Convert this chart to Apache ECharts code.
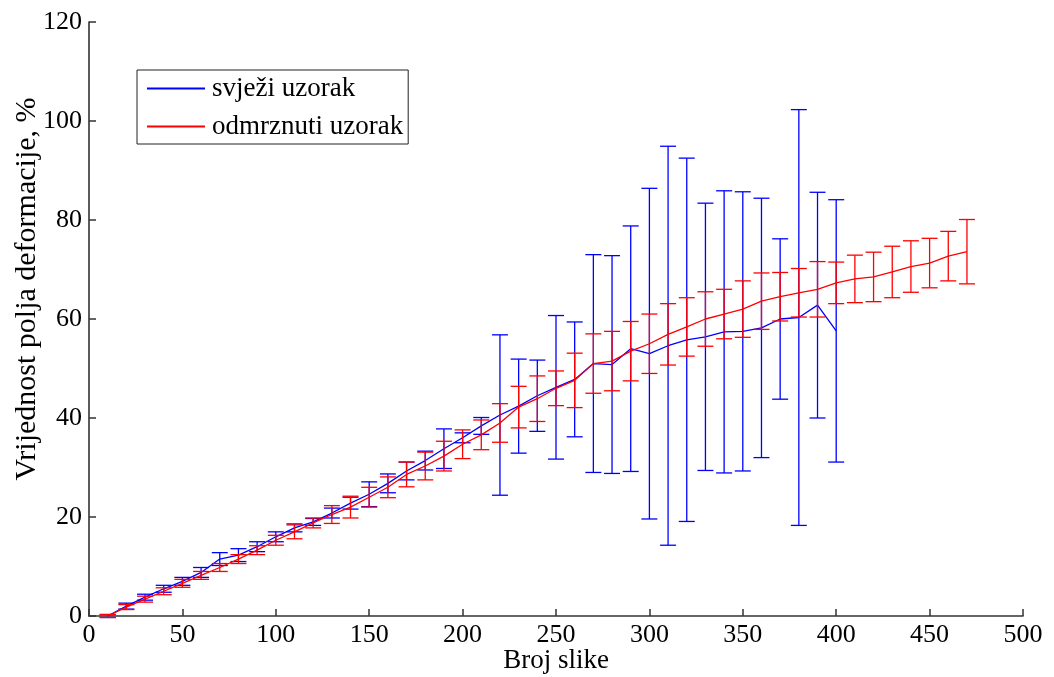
<!DOCTYPE html>
<html>
<head>
<meta charset="utf-8">
<script src="https://cdn.jsdelivr.net/npm/echarts@6/dist/echarts.min.js"></script>
<style>
  html, body { margin: 0; padding: 0; background: #fff; }
  #main { width: 1054px; height: 677px; }
</style>
</head>
<body>
<div id="main"></div>
<script>
// broj slike (x)
var frames = [10, 20, 30, 40, 50, 60, 70, 80, 90, 100, 110, 120, 130, 140, 150, 160, 170, 180, 190, 200,
              210, 220, 230, 240, 250, 260, 270, 280, 290, 300, 310, 320, 330, 340, 350, 360, 370, 380, 390, 400,
              410, 420, 430, 440, 450, 460, 470];

// svjezi uzorak - srednja vrijednost i greska
var blueMean = [0, 2, 3.8, 5.5, 7, 8.8, 11.5, 12.3, 14, 16, 17.8, 19, 20.8, 22.8, 24.6, 26.8, 29.3, 31.4, 33.8, 36,
                38.4, 40.6, 42.4, 44.5, 46.2, 47.8, 51, 50.8, 54, 53, 54.6, 55.8, 56.4, 57.4, 57.5, 58.2, 60, 60.3, 62.8, 57.6];
var blueErr = [0.3, 0.6, 0.6, 0.7, 0.8, 1, 1.3, 1.3, 1, 1, 0.8, 0.7, 1, 1.2, 2.5, 1.9, 1.8, 1.9, 4, 1,
               1.7, 16.2, 9.5, 7.2, 14.5, 11.6, 22, 22, 24.8, 33.4, 40.3, 36.7, 27, 28.5, 28.2, 26.2, 16.2, 42, 22.8, 26.5];

// odmrznuti uzorak
var redMean = [0, 1.8, 3.4, 5, 6.6, 8.2, 9.8, 11.5, 13.3, 15.3, 17, 18.8, 20.5, 22, 24, 26, 28.6, 30.3, 32.3, 34.7,
               36.6, 39, 42.2, 43.9, 46, 47.6, 51, 51.5, 53.5, 55, 56.9, 58.4, 60, 61, 62, 63.6, 64.5, 65.3, 66, 67.3,
               68.1, 68.5, 69.5, 70.6, 71.3, 72.7, 73.6];
var redErr = [0.3, 0.5, 0.6, 0.7, 0.8, 0.8, 0.8, 0.9, 0.9, 1, 1.4, 1, 1.8, 2.2, 2, 2.1, 2.5, 2.8, 3, 2.9,
              3, 3.9, 4.2, 4.6, 3.5, 5.5, 6, 6, 6, 6, 6.2, 5.9, 5.5, 5, 5.7, 5.7, 4.9, 4.9, 5.6, 4.2,
              4.8, 5, 5.2, 5.2, 5, 5, 6.5];

var xTicks = [0, 500, 50];
var yTicks = [0, 120, 20];

var serif = 'Liberation Serif';

function lineData(mean) {
    return mean.map(function(v, i) { return [frames[i], v]; });
}
function errData(mean, err) {
    return mean.map(function(v, i) { return [frames[i], v - err[i], v + err[i]]; });
}

function renderErr(color) {
    return function(params, api) {
        var lo = api.coord([api.value(0), api.value(1)]);
        var hi = api.coord([api.value(0), api.value(2)]);
        var w = 8;
        var st = { stroke: color, lineWidth: 1.3 };
        return {
            type: 'group',
            children: [
                { type: 'line', shape: { x1: hi[0], y1: hi[1], x2: lo[0], y2: lo[1] }, style: st },
                { type: 'line', shape: { x1: hi[0] - w, y1: hi[1], x2: hi[0] + w, y2: hi[1] }, style: st },
                { type: 'line', shape: { x1: lo[0] - w, y1: lo[1], x2: lo[0] + w, y2: lo[1] }, style: st }
            ]
        };
    };
}

var chart = echarts.init(document.getElementById('main'));

var option = {
    animation: false,
    backgroundColor: '#fff',
    grid: { left: 89, right: 31, top: 22, bottom: 61, outerBoundsMode: 'none' },
    legend: {
        data: ['svježi uzorak', 'odmrznuti uzorak'],
        orient: 'vertical',
        left: 137,
        top: 70,
        padding: [5, 5, 4, 10],
        itemGap: 11,
        itemWidth: 58,
        itemHeight: 2,
        icon: 'rect',
        borderColor: '#222',
        borderWidth: 1,
        backgroundColor: '#fff',
        textStyle: { fontFamily: serif, fontSize: 27, color: '#000', padding: [0, 0, 0, 2] }
    },
    // y-axis title is drawn as text so it can sit a little above the middle, as in the original
    graphic: [{
        type: 'text',
        x: 27,
        y: 289,
        rotation: Math.PI / 2,
        style: {
            text: 'Vrijednost polja deformacije, %',
            fontFamily: serif,
            fontSize: 30,
            fill: '#000',
            align: 'center',
            verticalAlign: 'middle'
        }
    }],
    xAxis: {
        type: 'value',
        min: xTicks[0],
        max: xTicks[1],
        interval: xTicks[2],
        name: 'Broj slike',
        nameLocation: 'middle',
        nameGap: 31,
        nameMoveOverlap: false,
        nameTextStyle: { fontFamily: serif, fontSize: 27, color: '#000' },
        axisLine: { lineStyle: { color: '#333', width: 1.6 } },
        axisTick: { inside: true, length: 7, lineStyle: { color: '#333', width: 1.5 } },
        axisLabel: { fontFamily: serif, fontSize: 26, color: '#000', margin: 6 },
        splitLine: { show: false }
    },
    yAxis: {
        type: 'value',
        min: yTicks[0],
        max: yTicks[1],
        interval: yTicks[2],
        axisLine: { show: true, lineStyle: { color: '#333', width: 1.6 } },
        axisTick: { show: true, inside: true, length: 7, lineStyle: { color: '#333', width: 1.5 } },
        axisLabel: { fontFamily: serif, fontSize: 26, color: '#000', margin: 7 },
        splitLine: { show: false }
    },
    series: [
        {
            name: 'blueErr',
            type: 'custom',
            renderItem: renderErr('#0000ff'),
            data: errData(blueMean, blueErr),
            encode: { x: 0, y: [1, 2] },
            z: 2
        },
        {
            name: 'svježi uzorak',
            type: 'line',
            data: lineData(blueMean),
            showSymbol: false,
            color: '#0000ff',
            lineStyle: { color: '#0000ff', width: 1.3 },
            z: 3
        },
        {
            name: 'redErr',
            type: 'custom',
            renderItem: renderErr('#ff0000'),
            data: errData(redMean, redErr),
            encode: { x: 0, y: [1, 2] },
            z: 4
        },
        {
            name: 'odmrznuti uzorak',
            type: 'line',
            data: lineData(redMean),
            showSymbol: false,
            color: '#ff0000',
            lineStyle: { color: '#ff0000', width: 1.3 },
            z: 5
        }
    ]
};

chart.setOption(option);
</script>
</body>
</html>
